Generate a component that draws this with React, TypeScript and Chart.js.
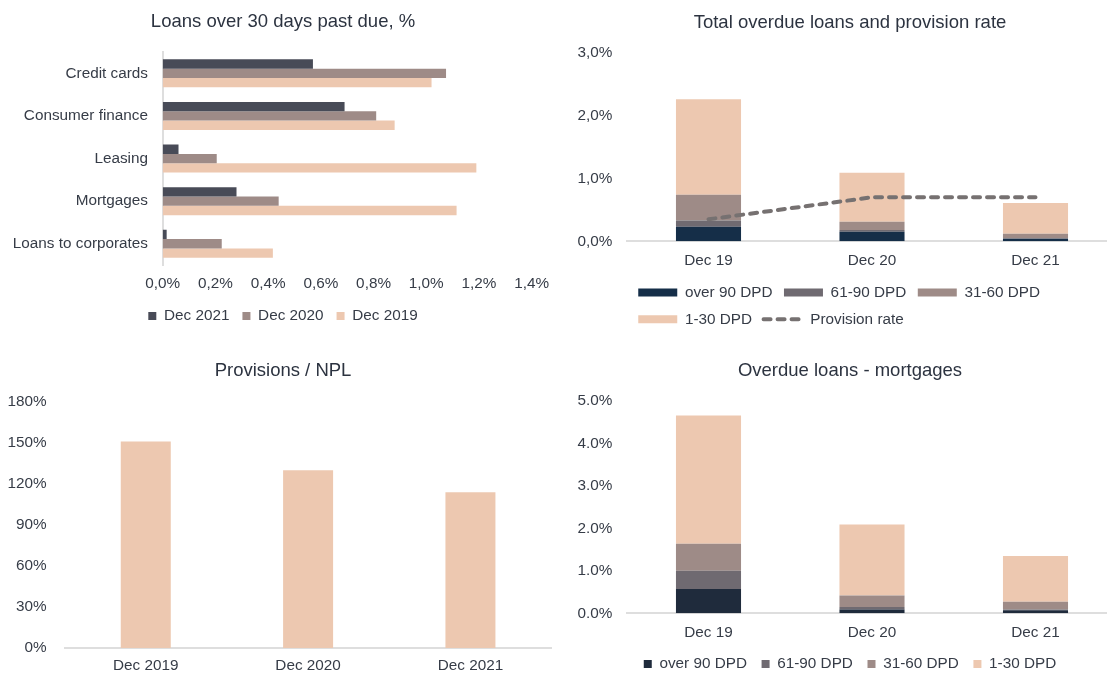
import React, { useEffect, useRef } from 'react';
import { Chart, registerables } from 'chart.js';

Chart.register(...registerables);

// ---------- data ----------
const loanCategories = ['Credit cards', 'Consumer finance', 'Leasing', 'Mortgages', 'Loans to corporates'];
const pastDue2021 = [0.57, 0.69, 0.06, 0.28, 0.015];
const pastDue2020 = [1.075, 0.81, 0.205, 0.44, 0.224];
const pastDue2019 = [1.02, 0.88, 1.19, 1.115, 0.418];

const overdueLabels = ['Dec 19', 'Dec 20', 'Dec 21'];
const totalOver90 = [0.23, 0.15, 0.04];
const total61to90 = [0.1, 0.03, 0.01];
const total31to60 = [0.41, 0.13, 0.07];
const total1to30 = [1.52, 0.78, 0.49];
const provisionRate = [0.35, 0.7, 0.7];

const provisionLabels = ['Dec 2019', 'Dec 2020', 'Dec 2021'];
const provisionsToNpl = [151, 130, 114];

const mortgageLabels = ['Dec 19', 'Dec 20', 'Dec 21'];
const mortgageOver90 = [0.57, 0.09, 0.07];
const mortgage61to90 = [0.43, 0.06, 0.02];
const mortgage31to60 = [0.64, 0.27, 0.18];
const mortgage1to30 = [3.02, 1.67, 1.08];

// ---------- styles ----------
const FONT = "'Liberation Sans', Arial, sans-serif";
const TITLE_COLOR = '#2c3340';
const TEXT_COLOR = '#363c47';
const AXIS_COLOR = '#dedede';
const C_DARK = '#484b57';
const C_MAUVE = '#9e8b87';
const C_PEACH = '#edc8b0';
const C_NAVY = '#152e48';
const C_NAVY2 = '#1f2b3c';
const C_GRAY = '#6f6a71';
const C_LINE = '#767171';

const TICK_FONT = { family: FONT, size: 15.3 };
const TITLE_FONT = { family: FONT, size: 18.5, weight: 'normal' as const };

Chart.defaults.font.family = FONT;

function titleOpts(text: string, top: number, bottom: number) {
  return {
    display: true,
    text,
    color: TITLE_COLOR,
    font: TITLE_FONT,
    padding: { top, bottom },
  };
}

function pctComma(v: number) {
  return Number(v).toFixed(1).replace('.', ',') + '%';
}

// invisible right-hand spacer scale, so the title can be centred independently of the plot area
function spacerScale(width: number) {
  return {
    type: 'linear',
    position: 'right',
    display: true,
    ticks: { display: false },
    grid: { display: false, drawTicks: false },
    border: { display: false },
    afterFit: (s: any) => { s.width = width; },
  };
}

// ---------- chart configs ----------
function buildPastDue(): any {
  return {
    type: 'bar',
    data: {
      labels: loanCategories,
      datasets: [
        { label: 'Dec 2021', data: pastDue2021, backgroundColor: C_DARK },
        { label: 'Dec 2020', data: pastDue2020, backgroundColor: C_MAUVE },
        { label: 'Dec 2019', data: pastDue2019, backgroundColor: C_PEACH },
      ],
    },
    options: {
      indexAxis: 'y',
      animation: false,
      responsive: false,
      events: [],
      layout: { padding: { left: 5, right: 0, top: 0, bottom: 0.35 } },
      datasets: { bar: { categoryPercentage: 0.657, barPercentage: 1 } },
      scales: {
        x: {
          min: 0,
          max: 1.4,
          ticks: { stepSize: 0.2, callback: (v: number) => pctComma(v), padding: 9, color: TEXT_COLOR, font: TICK_FONT, maxRotation: 0 },
          grid: { display: false, drawTicks: false },
          border: { display: false },
          afterFit: (s: any) => { s.height = 30.25; },
        },
        y: {
          ticks: { padding: 14.7, color: TEXT_COLOR, font: TICK_FONT },
          grid: { display: false, drawTicks: false },
          border: { display: true, color: AXIS_COLOR, width: 2 },
          afterFit: (s: any) => { s.width = 157.7; },
        },
        spacer: spacerScale(29.3),
      },
      plugins: {
        title: titleOpts('Loans over 30 days past due, %', 10.9, 18.9),
        legend: {
          position: 'bottom',
          align: 'center',
          labels: { boxWidth: 8, boxHeight: 8, padding: 13, color: TEXT_COLOR, font: TICK_FONT },
        },
        tooltip: { enabled: false },
      },
    },
  };
}

function customLegendLabels(chart: any) {
  return chart.data.datasets.map((ds: any, i: number) => {
    const isLine = ds.type === 'line';
    return {
      text: ds.label,
      fillStyle: isLine ? 'rgba(0,0,0,0)' : ds.backgroundColor,
      strokeStyle: isLine ? ds.borderColor : 'rgba(0,0,0,0)',
      lineWidth: isLine ? ds.borderWidth : 0,
      lineDash: isLine ? ds.borderDash : [],
      lineCap: isLine ? 'round' : 'butt',
      pointStyle: isLine ? 'line' : 'rect',
      rotation: 0,
      hidden: false,
      datasetIndex: i,
      fontColor: TEXT_COLOR,
    };
  });
}

function buildTotalOverdue(): any {
  return {
    type: 'bar',
    data: {
      labels: overdueLabels,
      datasets: [
        { label: 'over 90 DPD', data: totalOver90, backgroundColor: C_NAVY, stack: 'bars' },
        { label: '61-90 DPD', data: total61to90, backgroundColor: C_GRAY, stack: 'bars' },
        { label: '31-60 DPD', data: total31to60, backgroundColor: C_MAUVE, stack: 'bars' },
        { label: '1-30 DPD', data: total1to30, backgroundColor: C_PEACH, stack: 'bars' },
        {
          type: 'line',
          label: 'Provision rate',
          data: provisionRate,
          stack: 'line',
          borderColor: C_LINE,
          borderWidth: 4,
          borderDash: [7, 7],
          borderCapStyle: 'round',
          pointRadius: 0,
          fill: false,
          tension: 0,
          order: -1,
        },
      ],
    },
    options: {
      animation: false,
      responsive: false,
      events: [],
      layout: { padding: { left: 15, right: 0, top: 0, bottom: 0 } },
      datasets: { bar: { categoryPercentage: 1, barPercentage: 0.398 } },
      scales: {
        x: {
          stacked: true,
          ticks: { padding: 10.2, color: TEXT_COLOR, font: TICK_FONT, maxRotation: 0 },
          grid: { display: false, drawTicks: false },
          border: { display: true, color: AXIS_COLOR, width: 2 },
          afterFit: (s: any) => { s.height = 32.1; },
        },
        y: {
          stacked: true,
          min: 0,
          max: 3,
          ticks: { stepSize: 1, callback: (v: number) => pctComma(v), padding: 14.5, color: TEXT_COLOR, font: TICK_FONT },
          grid: { display: false, drawTicks: false },
          border: { display: false },
          afterFit: (s: any) => { s.width = 51.75; },
        },
        spacer: spacerScale(7.75),
      },
      plugins: {
        title: titleOpts('Total overdue loans and provision rate', 12.2, 18.3),
        legend: {
          position: 'bottom',
          align: 'start',
          fullSize: false,
          labels: {
            usePointStyle: true,
            pointStyleWidth: 39,
            boxWidth: 39,
            boxHeight: 8,
            padding: 11.5,
            color: TEXT_COLOR,
            font: TICK_FONT,
            generateLabels: customLegendLabels,
          },
        },
        tooltip: { enabled: false },
      },
    },
  };
}

function buildProvisions(): any {
  return {
    type: 'bar',
    data: {
      labels: provisionLabels,
      datasets: [{ label: 'Provisions / NPL', data: provisionsToNpl, backgroundColor: C_PEACH }],
    },
    options: {
      animation: false,
      responsive: false,
      events: [],
      layout: { padding: { left: 7, right: 0, top: 0, bottom: 0 } },
      datasets: { bar: { categoryPercentage: 1, barPercentage: 0.308 } },
      scales: {
        x: {
          ticks: { padding: 8.3, color: TEXT_COLOR, font: TICK_FONT, maxRotation: 0 },
          grid: { display: false, drawTicks: false },
          border: { display: true, color: AXIS_COLOR, width: 2 },
          afterFit: (s: any) => { s.height = 25.5; },
        },
        y: {
          min: 0,
          max: 180,
          ticks: { stepSize: 30, callback: (v: number) => v + '%', padding: 17.9, color: TEXT_COLOR, font: TICK_FONT },
          grid: { display: false, drawTicks: false },
          border: { display: false },
          afterFit: (s: any) => { s.width = 57.6; },
        },
        spacer: spacerScale(7.4),
      },
      plugins: {
        title: titleOpts('Provisions / NPL', 21.6, 20.2),
        legend: { display: false },
        tooltip: { enabled: false },
      },
    },
  };
}

function buildMortgages(): any {
  return {
    type: 'bar',
    data: {
      labels: mortgageLabels,
      datasets: [
        { label: 'over 90 DPD', data: mortgageOver90, backgroundColor: C_NAVY2 },
        { label: '61-90 DPD', data: mortgage61to90, backgroundColor: C_GRAY },
        { label: '31-60 DPD', data: mortgage31to60, backgroundColor: C_MAUVE },
        { label: '1-30 DPD', data: mortgage1to30, backgroundColor: C_PEACH },
      ],
    },
    options: {
      animation: false,
      responsive: false,
      events: [],
      layout: { padding: { left: 15, right: 0, top: 0, bottom: 0.35 } },
      datasets: { bar: { categoryPercentage: 1, barPercentage: 0.398 } },
      scales: {
        x: {
          stacked: true,
          ticks: { padding: 10.2, color: TEXT_COLOR, font: TICK_FONT, maxRotation: 0 },
          grid: { display: false, drawTicks: false },
          border: { display: true, color: AXIS_COLOR, width: 2 },
          afterFit: (s: any) => { s.height = 28.45; },
        },
        y: {
          stacked: true,
          min: 0,
          max: 5,
          ticks: { stepSize: 1, callback: (v: number) => Number(v).toFixed(1) + '%', padding: 14.5, color: TEXT_COLOR, font: TICK_FONT },
          grid: { display: false, drawTicks: false },
          border: { display: false },
          afterFit: (s: any) => { s.width = 51.75; },
        },
        spacer: spacerScale(7.75),
      },
      plugins: {
        title: titleOpts('Overdue loans - mortgages', 21.6, 19.2),
        legend: {
          position: 'bottom',
          align: 'center',
          labels: { boxWidth: 8, boxHeight: 8, padding: 14.6, color: TEXT_COLOR, font: TICK_FONT },
        },
        tooltip: { enabled: false },
      },
    },
  };
}

// ---------- components ----------
type PanelProps = { left: number; top: number; width: number; height: number; build: () => any };

function ChartPanel({ left, top, width, height, build }: PanelProps) {
  const ref = useRef<HTMLCanvasElement | null>(null);
  useEffect(() => {
    if (!ref.current) return;
    const chart = new Chart(ref.current, build());
    return () => chart.destroy();
  }, [build]);
  return (
    <canvas
      ref={ref}
      width={width}
      height={height}
      style={{ position: 'absolute', left, top, width, height }}
    />
  );
}

export default function App() {
  return (
    <div
      style={{
        position: 'fixed',
        left: 0,
        top: 0,
        width: 1107,
        height: 675,
        overflow: 'hidden',
        background: '#ffffff',
      }}
    >
      <ChartPanel left={0} top={0} width={561} height={334} build={buildPastDue} />
      <ChartPanel left={560} top={0} width={565} height={337} build={buildTotalOverdue} />
      <ChartPanel left={0} top={338} width={559} height={337} build={buildProvisions} />
      <ChartPanel left={560} top={338} width={565} height={344} build={buildMortgages} />
    </div>
  );
}
